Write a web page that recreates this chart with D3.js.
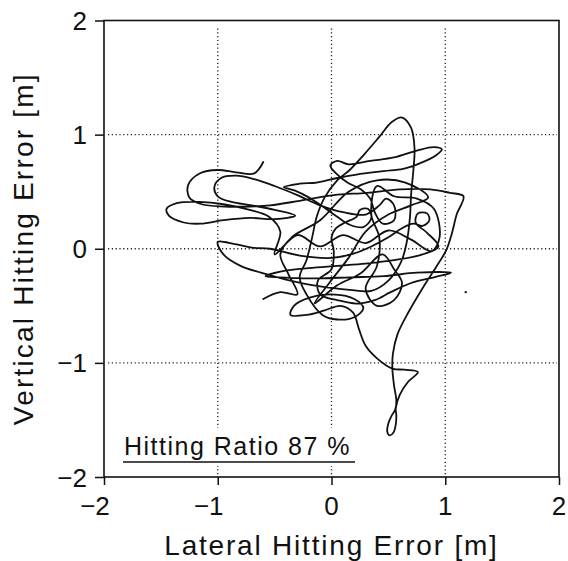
<!DOCTYPE html>
<html>
<head>
<meta charset="utf-8">
<script src="https://cdn.jsdelivr.net/npm/d3@7"></script>
<style>
  html, body { margin: 0; padding: 0; background: #fff; }
  svg { display: block; }
  text { font-family: "Liberation Sans", Arial, Helvetica, sans-serif; fill: #111; }
</style>
</head>
<body>
<svg id="chart" width="568" height="561"></svg>
<script>
// Tick values and labels
const xTicks = [-2, -1, 0, 1, 2];
const yTicks = [-2, -1, 0, 1, 2];
const gridValues = [-1, 0, 1];
const tickLabels = { "-2": "\u22122", "-1": "\u22121", "0": "0", "1": "1", "2": "2" };

// Axis titles and annotation
const xTitle = "Lateral Hitting Error [m]";
const yTitle = "Vertical Hitting Error [m]";
const ratioLabel = "Hitting Ratio 87 %";

// Hitting error trajectory, [lateral m, vertical m] in drawing order
const trajectory = [
  [-0.60,0.76],[-0.68,0.66],[-0.84,0.67],[-1.00,0.69],[-1.16,0.66],[-1.26,0.56],[-1.25,0.45],[-1.14,0.39],[-0.94,0.37],
  [-0.72,0.37],[-0.54,0.38],[-0.28,0.42],[0.02,0.47],[0.31,0.49],[0.60,0.52],[0.87,0.52],[1.04,0.49],[1.16,0.46],
  [1.10,0.30],[1.06,0.14],[1.01,-0.01],[0.92,-0.16],[0.81,-0.33],[0.68,-0.55],[0.58,-0.75],[0.54,-0.92],[0.535,-1.05],
  [0.55,-1.20],[0.57,-1.33],[0.56,-1.41],[0.53,-1.46],[0.50,-1.53],[0.49,-1.60],[0.51,-1.635],[0.545,-1.61],[0.565,-1.54],
  [0.57,-1.46],[0.565,-1.40],[0.60,-1.28],[0.67,-1.17],[0.76,-1.08],[0.64,-1.06],[0.535,-1.05],
  [0.40,-0.96],[0.30,-0.85],[0.24,-0.70],[0.19,-0.56],
  [0.08,-0.50],[-0.06,-0.54],[-0.22,-0.58],[-0.36,-0.58],[-0.33,-0.50],[-0.20,-0.43],[0.00,-0.40],[0.20,-0.44],[0.28,-0.52],
  [0.20,-0.60],[0.05,-0.62],[-0.08,-0.58],
  [-0.22,-0.40],[-0.28,-0.25],[-0.22,-0.10],[-0.17,0.10],[-0.13,0.28],[-0.06,0.45],[0.05,0.60],[0.16,0.69],[0.29,0.83],
  [0.42,0.98],[0.53,1.11],[0.62,1.15],[0.70,1.06],[0.73,0.88],[0.72,0.69],[0.70,0.48],[0.69,0.28],[0.66,0.05],[0.61,-0.12],
  [0.50,-0.28],[0.35,-0.37],[0.16,-0.36],[-0.10,-0.33],[-0.40,-0.27],[-0.62,-0.21],[-0.80,-0.15],[-0.95,-0.05],[-1.00,0.06],
  [-0.85,0.04],[-0.70,0.01],[-0.54,0.00],[-0.28,-0.06],[0.00,-0.08],[0.20,-0.04],[0.35,0.02],[0.50,0.10],[0.62,0.18],
  [0.72,0.22],[0.80,0.20],[0.86,0.25],[0.84,0.31],[0.76,0.31],[0.74,0.23],[0.84,0.14],[0.94,0.02],
  [0.80,-0.05],[0.55,-0.10],[0.30,-0.13],[0.05,-0.15],[-0.20,-0.17],[-0.45,-0.20],[-0.58,-0.24],
  [-0.45,-0.25],[-0.13,-0.26],[0.16,-0.25],[0.46,-0.24],[0.75,-0.21],[1.05,-0.21],
  [0.90,-0.25],[0.70,-0.30],[0.52,-0.38],[0.38,-0.45],[0.22,-0.48],[0.05,-0.45],[-0.10,-0.40],[-0.12,-0.28],[0.00,-0.18],
  [0.02,-0.02],[0.00,0.10],[0.04,0.18],[0.12,0.23],[0.22,0.28],[0.25,0.34],[0.32,0.35],[0.35,0.27],[0.28,0.19],[0.16,0.21],
  [0.05,0.28],[-0.05,0.35],[-0.20,0.45],[-0.32,0.51],
  [-0.42,0.54],[-0.28,0.57],[-0.13,0.58],[0.05,0.62],[0.22,0.65],[0.46,0.68],[0.63,0.70],[0.78,0.75],[0.92,0.82],[0.97,0.87],
  [0.90,0.89],[0.75,0.86],[0.55,0.80],[0.34,0.77],[0.15,0.74],[0.05,0.77],[-0.01,0.73],[0.04,0.66],[0.14,0.58],[0.26,0.52],
  [0.34,0.44],[0.38,0.32],[0.45,0.22],[0.55,0.25],[0.55,0.38],[0.48,0.44],[0.42,0.38],
  [0.30,0.30],[0.10,0.32],[-0.10,0.38],[-0.30,0.47],[-0.50,0.55],
  [-0.68,0.61],[-0.84,0.64],[-0.97,0.62],[-1.03,0.54],[-1.00,0.46],[-0.88,0.41],[-0.70,0.38],[-0.50,0.34],[-0.32,0.29],
  [-0.50,0.26],[-0.72,0.27],[-0.95,0.25],[-1.15,0.22],[-1.30,0.23],[-1.43,0.29],[-1.45,0.35],[-1.36,0.40],[-1.16,0.41],
  [-0.95,0.39],[-0.72,0.34],[-0.55,0.28],
  [-0.45,0.15],[-0.50,-0.05],[-0.30,0.12],[-0.10,0.02],[0.10,0.12],[0.30,0.05],[0.50,0.16],[0.70,0.08],[0.88,-0.02],
  [0.95,0.10],[0.90,0.35],[0.75,0.44],[0.55,0.46],[0.40,0.55],[0.35,0.30],[0.42,0.10],[0.40,-0.15],[0.30,-0.35],
  [0.40,-0.50],[0.55,-0.45],[0.62,-0.30],[0.55,-0.18],[0.45,-0.05],[0.25,-0.22],[0.05,-0.32],[-0.15,-0.48],
  [-0.02,-0.30],[0.15,-0.08],[0.30,0.15],[0.50,0.30],[0.70,0.38],[0.85,0.45],[0.65,0.58],[0.40,0.60],[0.15,0.50],
  [-0.10,0.25],[-0.35,0.10],[-0.45,-0.05],[-0.38,-0.22],[-0.30,-0.40],[-0.45,-0.38],[-0.60,-0.44]
];
// Isolated speck to the right of the trace
const speckX = [1.18];
const speckY = [-0.38];

const svg = d3.select("#chart");
const W = 568, H = 561;
svg.append("rect").attr("width", W).attr("height", H).attr("fill", "#fff");

const x = d3.scaleLinear().domain([-2, 2]).range([104, 559]);
const y = d3.scaleLinear().domain([-2, 2]).range([477, 20.5]);

// Dotted grid
const grid = svg.append("g").attr("stroke", "#222").attr("stroke-width", 1.3)
  .attr("stroke-dasharray", "1.2,2.6").attr("fill", "none");
grid.selectAll("line.v").data(gridValues).join("line").attr("class", "v")
  .attr("x1", d => x(d)).attr("x2", d => x(d)).attr("y1", y(2) + 8).attr("y2", y(-2) - 2);
grid.selectAll("line.h").data(gridValues).join("line").attr("class", "h")
  .attr("y1", d => y(d)).attr("y2", d => y(d)).attr("x1", x(-2) + 4).attr("x2", x(2) - 2);

// Annotation with underline, on a white backing that interrupts the grid
const ann = svg.append("g");
ann.append("rect").attr("x", 120).attr("y", 428).attr("width", 240).attr("height", 38).attr("fill", "#fff");
ann.append("text").attr("x", 124).attr("y", 455).attr("font-size", 25)
  .attr("letter-spacing", 1.5).text(ratioLabel);
ann.append("line").attr("x1", 123).attr("x2", 355).attr("y1", 462).attr("y2", 462)
  .attr("stroke", "#111").attr("stroke-width", 1.6);

// Trajectory
const line = d3.line().x(d => x(d[0])).y(d => y(d[1])).curve(d3.curveCatmullRom.alpha(0.5));
svg.append("path").datum(trajectory).attr("d", line).attr("fill", "none")
  .attr("stroke", "#111").attr("stroke-width", 1.8).attr("stroke-linejoin", "round").attr("stroke-linecap", "round");
svg.selectAll("circle.speck").data(speckX).join("circle").attr("class", "speck")
  .attr("cx", d => x(d)).attr("cy", (d, i) => y(speckY[i])).attr("r", 1.2).attr("fill", "#111");

// Frame
svg.append("rect").attr("x", x(-2)).attr("y", y(2)).attr("width", x(2) - x(-2)).attr("height", y(-2) - y(2))
  .attr("fill", "none").attr("stroke", "#111").attr("stroke-width", 1.6);

// Axes with outward ticks
const xAxis = d3.axisBottom(x).tickValues(xTicks).tickSize(8).tickSizeOuter(0).tickFormat(() => "");
const yAxis = d3.axisLeft(y).tickValues(yTicks).tickSize(9).tickSizeOuter(0).tickFormat(() => "");
const gx = svg.append("g").attr("transform", `translate(0,${y(-2)})`).call(xAxis);
const gy = svg.append("g").attr("transform", `translate(${x(-2)},0)`).call(yAxis);
[gx, gy].forEach(g => {
  g.select(".domain").remove();
  g.selectAll(".tick line").attr("stroke", "#111").attr("stroke-width", 1.5);
});

// X tick labels: digit centred on the tick, minus hanging to the left
svg.append("g").selectAll("text").data(xTicks).join("text")
  .attr("x", d => x(d) + (d < 0 ? -9 : 0)).attr("y", 515)
  .attr("text-anchor", "middle").attr("font-size", 26).text(d => tickLabels[String(d)]);

// Y tick labels
svg.append("g").selectAll("text").data(yTicks).join("text")
  .attr("x", 87).attr("y", d => y(d) + 9.5)
  .attr("text-anchor", "end").attr("font-size", 26).text(d => tickLabels[String(d)]);

// Axis titles
svg.append("text").attr("x", x(0)).attr("y", 555).attr("text-anchor", "middle")
  .attr("font-size", 28).attr("letter-spacing", 1.8).text(xTitle);
svg.append("text").attr("transform", `translate(33,${y(0)}) rotate(-90)`).attr("text-anchor", "middle")
  .attr("font-size", 28).attr("letter-spacing", 2.2).text(yTitle);
</script>
</body>
</html>
